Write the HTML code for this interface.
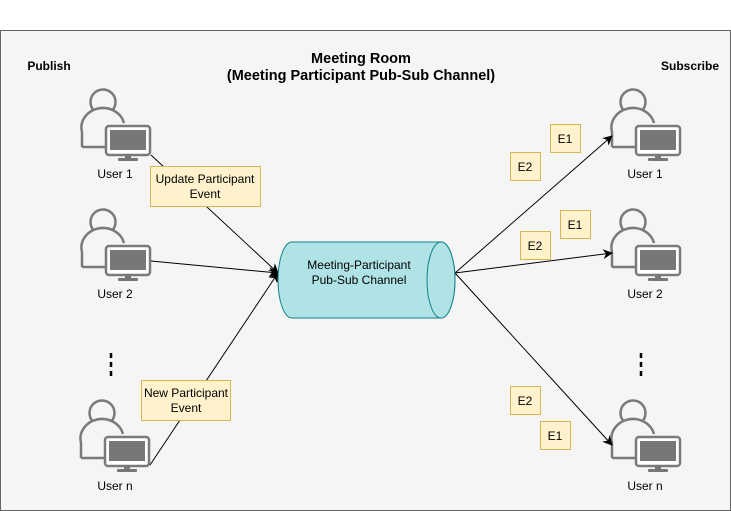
<!DOCTYPE html>
<html><head><meta charset="utf-8"><style>
html,body{margin:0;padding:0;background:#fff;}
svg{display:block;font-family:"Liberation Sans",Arial,sans-serif;}
</style></head><body>
<svg width="731" height="511" viewBox="0 0 731 511" xmlns="http://www.w3.org/2000/svg">
<defs>
<marker id="a" markerWidth="10" markerHeight="10" refX="9" refY="5" orient="auto" markerUnits="userSpaceOnUse">
<path d="M0,0 L10,5 L0,10 L3,5 Z" fill="#000"/></marker>
<g id="u">
<circle cx="-3" cy="-24" r="12.5" fill="#f5f5f5" stroke="#7a7a7a" stroke-width="2.5"/>
<path d="M-24,21 V6 A21,19 0 0 1 18,-3" fill="#f5f5f5" stroke="#7a7a7a" stroke-width="2.5"/>
<path d="M-24,21 H0" stroke="#7a7a7a" stroke-width="2.5"/>
<rect x="0" y="0" width="44" height="29" rx="3" fill="#fff" stroke="#7a7a7a" stroke-width="2.5"/>
<rect x="4" y="4" width="36" height="20" fill="#777"/>
<rect x="19" y="29" width="6" height="4" fill="#777"/>
<rect x="12" y="32" width="20" height="3" rx="1" fill="#777"/>
</g>
</defs>
<rect x="0.5" y="30.5" width="730" height="480" fill="#f5f5f5" stroke="#666"/>
<text x="361" y="63" font-size="14.5" font-weight="bold" text-anchor="middle">Meeting Room</text>
<text x="361" y="80" font-size="14.5" font-weight="bold" text-anchor="middle">(Meeting Participant Pub-Sub Channel)</text>
<text x="49" y="70" font-size="12" font-weight="bold" text-anchor="middle">Publish</text>
<text x="690" y="70" font-size="12" font-weight="bold" text-anchor="middle">Subscribe</text>

<use href="#u" x="106" y="126"/>
<use href="#u" x="106" y="246"/>
<use href="#u" x="105" y="437"/>
<use href="#u" x="636" y="126"/>
<use href="#u" x="636" y="246"/>
<use href="#u" x="636" y="437"/>
<g font-size="12" text-anchor="middle">
<text x="115" y="178">User 1</text>
<text x="115" y="298">User 2</text>
<text x="115" y="490">User n</text>
<text x="645" y="178">User 1</text>
<text x="645" y="298">User 2</text>
<text x="645" y="490">User n</text>
</g>
<g stroke="#000" stroke-width="2.5" stroke-dasharray="5,4">
<line x1="111" y1="353" x2="111" y2="378"/>
<line x1="641" y1="353" x2="641" y2="378"/>
</g>

<g stroke="#000" stroke-width="1" fill="none" marker-end="url(#a)">
<line x1="151" y1="155" x2="278" y2="273"/>
<line x1="151" y1="261" x2="278" y2="273"/>
<line x1="150" y1="465" x2="278" y2="273"/>
<line x1="455" y1="273" x2="612" y2="136"/>
<line x1="455" y1="273" x2="612" y2="253"/>
<line x1="455" y1="273" x2="612" y2="445"/>
</g>

<path d="M292,242 H441 A14,38 0 0 1 441,318 H292 A14,38 0 0 1 292,242 Z" fill="#b0e3e6" stroke="#0e8088"/>
<ellipse cx="441" cy="280" rx="14" ry="38" fill="#b0e3e6" stroke="#0e8088"/>
<text x="359" y="269" font-size="12" text-anchor="middle">Meeting-Participant</text>
<text x="359" y="284" font-size="12" text-anchor="middle">Pub-Sub Channel</text>

<g fill="#fff2cc" stroke="#d6b656">
<rect x="150.5" y="166.5" width="110" height="40"/>
<rect x="141.5" y="380.5" width="89" height="40"/>
<rect x="550.5" y="124.5" width="30" height="28"/>
<rect x="510.5" y="152.5" width="30" height="28"/>
<rect x="560.5" y="210.5" width="30" height="28"/>
<rect x="520.5" y="231.5" width="30" height="28"/>
<rect x="510.5" y="386.5" width="30" height="28"/>
<rect x="540.5" y="421.5" width="30" height="28"/>
</g>
<g font-size="12" text-anchor="middle">
<text x="205" y="183">Update Participant</text>
<text x="205" y="198">Event</text>
<text x="186" y="397">New Participant</text>
<text x="186" y="412">Event</text>
<text x="565" y="143">E1</text>
<text x="525" y="171">E2</text>
<text x="575" y="229">E1</text>
<text x="535" y="250">E2</text>
<text x="525" y="405">E2</text>
<text x="555" y="440">E1</text>
</g>
</svg>
</body></html>
